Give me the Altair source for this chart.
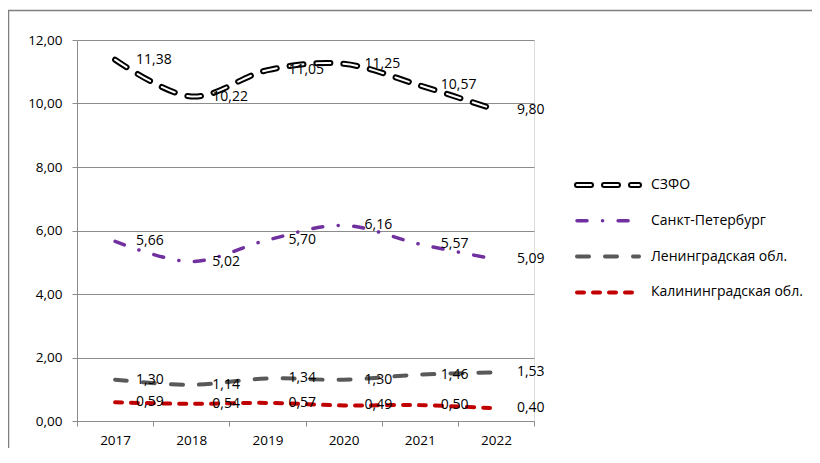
import altair as alt
import pandas as pd

years = ["2017", "2018", "2019", "2020", "2021", "2022"]
series_names = ["СЗФО", "Санкт-Петербург", "Ленинградская обл.", "Калининградская обл."]
szfo = [11.38, 10.22, 11.05, 11.25, 10.57, 9.80]
spb = [5.66, 5.02, 5.70, 6.16, 5.57, 5.09]
len_obl = [1.30, 1.14, 1.34, 1.30, 1.46, 1.53]
kal_obl = [0.59, 0.54, 0.57, 0.49, 0.50, 0.40]
y_ticks = [0, 2, 4, 6, 8, 10, 12]

values = [szfo, spb, len_obl, kal_obl]
rows = []
for name, vals in zip(series_names, values):
    for yr, v in zip(years, vals):
        rows.append({"series": name, "year": yr, "value": v})
df = pd.DataFrame(rows)

FONT = "Open Sans"
AX = "#8c8c8c"

# style per series: list of (color, width, dash) strokes drawn on top of each other
styles = {
    "СЗФО": [("#000000", 6, [14, 13]), ("#ffffff", 2, [14, 13])],
    "Санкт-Петербург": [("#7030A0", 3.5, [10, 15.5, 0.1, 15.5])],
    "Ленинградская обл.": [("#595959", 4, [12, 16])],
    "Калининградская обл.": [("#C00000", 4, [7, 9])],
}

W, H = 457, 381

x_enc = alt.X(
    "year:O",
    bandPosition=0.5,
    scale=alt.Scale(type="band", paddingInner=0, paddingOuter=0, domain=years),
    axis=alt.Axis(
        title=None, labelAngle=0, tickBand="extent", grid=False,
        domainColor=AX, tickColor=AX, tickSize=5, labelPadding=7,
        labelFont=FONT, labelFontSize=13.5, labelColor="#000000",
    ),
)
y_enc = alt.Y(
    "value:Q",
    scale=alt.Scale(domain=[0, 12], nice=False),
    axis=alt.Axis(
        title=None, values=y_ticks, grid=True, gridColor=AX,
        domainColor=AX, tickColor=AX, tickSize=5, labelPadding=10,
        labelFont=FONT, labelFontSize=13.5, labelColor="#000000",
        labelExpr="replace(format(datum.value, '.2f'), '.', ',')",
    ),
)

base = alt.Chart(df)
layers = []

# chart-area border (drawn first, extends past the right/bottom edges)
bdf = pd.DataFrame({"b": [0]})
layers.append(
    alt.Chart(bdf).mark_rect(fill=None, stroke="#7f7f7f", strokeWidth=1.5)
    .encode(x=alt.value(-68.5), x2=alt.value(780), y=alt.value(-29.5), y2=alt.value(470))
)

for name in series_names:
    for color, w, dash in styles[name]:
        layers.append(
            base.transform_filter(alt.datum.series == name)
            .mark_line(interpolate="cardinal", color=color, strokeWidth=w,
                       strokeDash=dash, strokeCap="round")
            .encode(x=x_enc, y=y_enc)
        )

labels = (
    base.transform_calculate(lbl="replace(format(datum.value, '.2f'), '.', ',')")
    .mark_text(align="left", baseline="middle", dx=21, font=FONT, fontSize=14, color="#000000")
    .encode(x=x_enc, y=y_enc, text="lbl:N")
)
layers.append(labels)

# custom legend (right side)
leg_y0, leg_step = 145, 35.8
for i, name in enumerate(series_names):
    ly = leg_y0 + i * leg_step
    ldf = pd.DataFrame({"name": [name]})
    for color, w, dash in styles[name]:
        layers.append(
            alt.Chart(ldf).mark_rule(color=color, strokeWidth=w, strokeDash=dash, strokeCap="round")
            .encode(x=alt.value(500), x2=alt.value(562), y=alt.value(ly))
        )
    layers.append(
        alt.Chart(ldf).mark_text(align="left", baseline="middle", font=FONT, fontSize=14, color="#000000")
        .encode(x=alt.value(574), y=alt.value(ly), text="name:N")
    )

chart = (
    alt.layer(*layers)
    .properties(
        width=W, height=H,
        padding={"left": 69, "top": 32, "right": 278, "bottom": 27},
        autosize=alt.AutoSizeParams(type="none"),
    )
    .configure_view(stroke=None)
    .configure(background="#ffffff")
)

chart.save("out.html", embed_options={"renderer": "svg", "actions": False})
